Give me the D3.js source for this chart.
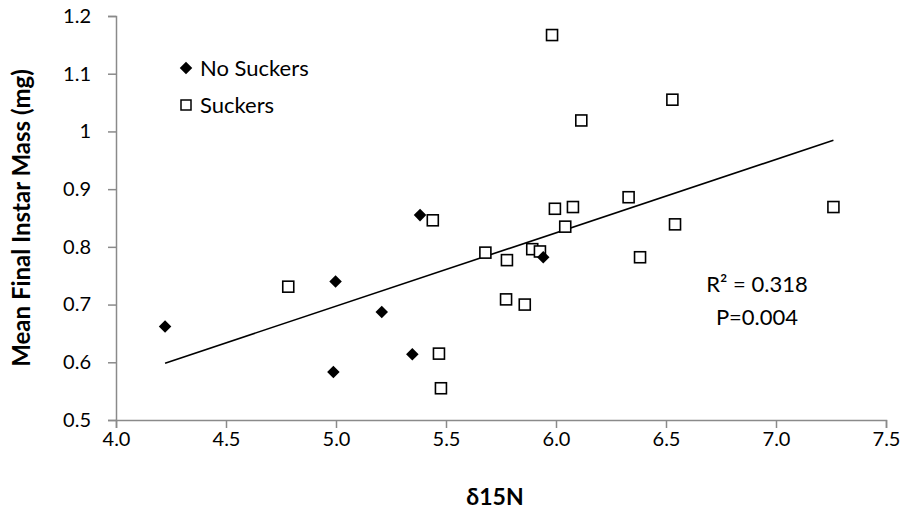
<!DOCTYPE html>
<html>
<head>
<meta charset="utf-8">
<script src="https://cdn.jsdelivr.net/npm/d3@7"></script>
<style>
  html, body { margin: 0; padding: 0; background: #fff; }
  svg { display: block; font-family: Lato, "Noto Sans", sans-serif; }
</style>
</head>
<body>
<svg id="chart" width="906" height="531"></svg>
<script>
// δ15N (x) and mean final instar mass in mg (y), by group
const noSuckersX = [4.223, 4.998, 4.988, 5.208, 5.347, 5.382, 5.942];
const noSuckersY = [0.662, 0.740, 0.583, 0.687, 0.614, 0.855, 0.782];

const suckersX = [4.783, 5.440, 5.468, 5.477, 5.679, 5.773, 5.777, 5.858, 5.892, 5.927,
                  5.982, 5.995, 6.042, 6.077, 6.115, 6.330, 6.382, 6.529, 6.541, 7.261];
const suckersY = [0.731, 0.846, 0.615, 0.555, 0.790, 0.709, 0.777, 0.700, 0.796, 0.792,
                  1.167, 0.866, 0.835, 0.869, 1.019, 0.886, 0.782, 1.055, 0.839, 0.869];

const xTickValues = [4.0, 4.5, 5.0, 5.5, 6.0, 6.5, 7.0, 7.5];
const xTickLabels = ["4.0", "4.5", "5.0", "5.5", "6.0", "6.5", "7.0", "7.5"];
const yTickValues = [0.5, 0.6, 0.7, 0.8, 0.9, 1.0, 1.1, 1.2];
const yTickLabels = ["0.5", "0.6", "0.7", "0.8", "0.9", "1", "1.1", "1.2"];

const seriesNames = ["No Suckers", "Suckers"];
const statLines = ["R² = 0.318", "P=0.004"];

const svg = d3.select("#chart");
const axisColor = "#8a8a8a";

const x = d3.scaleLinear().domain([4.0, 7.5]).range([116, 886]);
const y = d3.scaleLinear().domain([0.5, 1.2]).range([420, 16]);

// Axes
const xAxis = d3.axisBottom(x)
  .tickValues(xTickValues)
  .tickFormat((d, i) => xTickLabels[i])
  .tickSize(8).tickPadding(4);
const yAxis = d3.axisLeft(y)
  .tickValues(yTickValues)
  .tickFormat((d, i) => yTickLabels[i])
  .tickSize(8).tickPadding(17);

const gx = svg.append("g").attr("transform", `translate(0,${y(0.5)})`).call(xAxis);
const gy = svg.append("g").attr("transform", `translate(${x(4.0)},0)`).call(yAxis);
[gx, gy].forEach(g => {
  g.select(".domain").attr("stroke", axisColor).attr("stroke-width", 1.5);
  g.selectAll(".tick line").attr("stroke", axisColor).attr("stroke-width", 1.5);
  g.selectAll(".tick text").attr("fill", "#000").style("font-size", "20px")
    .style("font-family", "Lato, sans-serif");
});

// Least-squares trendline over all points
const allX = noSuckersX.concat(suckersX);
const allY = noSuckersY.concat(suckersY);
const mx = d3.mean(allX), my = d3.mean(allY);
const slope = d3.sum(allX, (v, i) => (v - mx) * (allY[i] - my)) / d3.sum(allX, v => (v - mx) ** 2);
const intercept = my - slope * mx;
const [x0, x1] = d3.extent(allX);
svg.append("line")
  .attr("x1", x(x0)).attr("y1", y(intercept + slope * x0))
  .attr("x2", x(x1)).attr("y2", y(intercept + slope * x1))
  .attr("stroke", "#000").attr("stroke-width", 1.6);

// Markers
const diamond = d3.symbol().type(d3.symbolDiamond2).size(100);
const squareSide = 11;

svg.append("g").selectAll("rect")
  .data(d3.range(suckersX.length))
  .join("rect")
  .attr("x", i => x(suckersX[i]) - squareSide / 2)
  .attr("y", i => y(suckersY[i]) - squareSide / 2)
  .attr("width", squareSide).attr("height", squareSide)
  .attr("fill", "#fff").attr("stroke", "#000").attr("stroke-width", 1.6);

svg.append("g").selectAll("path")
  .data(d3.range(noSuckersX.length))
  .join("path")
  .attr("d", diamond)
  .attr("transform", i => `translate(${x(noSuckersX[i])},${y(noSuckersY[i])})`)
  .attr("fill", "#000");

// Legend
const legend = svg.append("g");
legend.append("path").attr("d", diamond).attr("transform", "translate(186,68)").attr("fill", "#000");
legend.append("rect").attr("x", 181).attr("y", 100).attr("width", 10).attr("height", 10)
  .attr("fill", "#fff").attr("stroke", "#000").attr("stroke-width", 1.5);
legend.selectAll("text").data(seriesNames).join("text")
  .attr("x", 200).attr("y", (d, i) => 68 + i * 37)
  .attr("dy", "0.35em")
  .style("font-size", "22px")
  .text(d => d);

// Fit statistics
svg.append("g").selectAll("text").data(statLines).join("text")
  .attr("x", 757).attr("y", (d, i) => 284 + i * 33)
  .attr("dy", "0.35em").attr("text-anchor", "middle")
  .style("font-size", "22px")
  .text(d => d);

// Axis titles
svg.append("text")
  .attr("transform", "translate(22,218) rotate(-90)")
  .attr("text-anchor", "middle").attr("dy", "0.35em")
  .style("font-size", "24px").style("font-weight", "bold")
  .text("Mean Final Instar Mass (mg)");
svg.append("text")
  .attr("x", 495).attr("y", 497)
  .attr("text-anchor", "middle").attr("dy", "0.35em")
  .style("font-size", "23px").style("font-weight", "bold")
  .text("δ15N");
</script>
</body>
</html>
